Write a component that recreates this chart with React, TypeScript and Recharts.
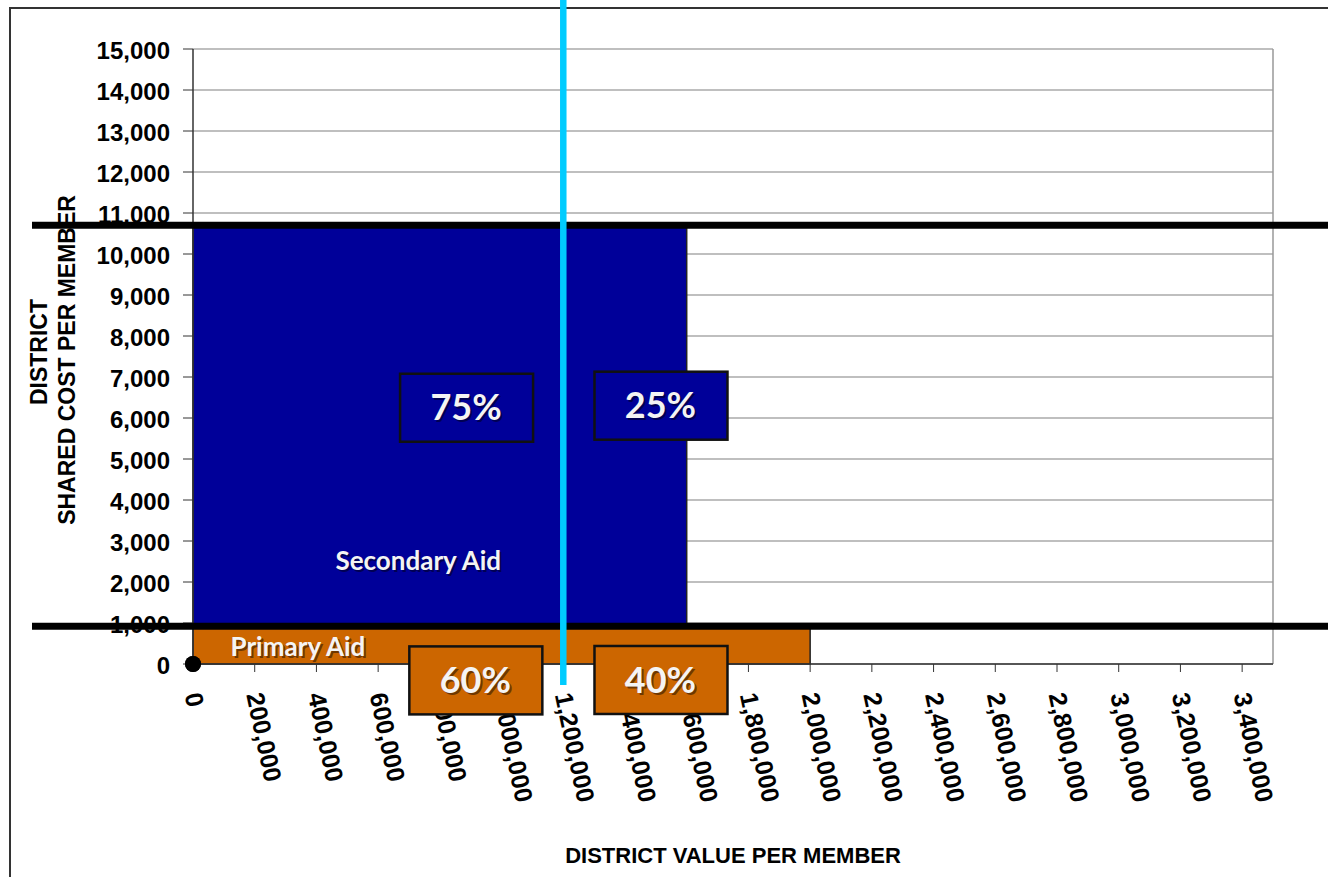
import React from 'react'
import {
  ComposedChart,
  XAxis,
  YAxis,
  CartesianGrid,
  ReferenceArea,
  ReferenceLine,
  ReferenceDot,
  Scatter,
} from 'recharts'

const valueTicks = [
  0, 200000, 400000, 600000, 800000, 1000000, 1200000, 1400000, 1600000,
  1800000, 2000000, 2200000, 2400000, 2600000, 2800000, 3000000, 3200000, 3400000,
]
const costTicks = [
  0, 1000, 2000, 3000, 4000, 5000, 6000, 7000, 8000, 9000, 10000, 11000, 12000, 13000, 14000, 15000,
]

// aid bands: primary sits under the lower threshold, secondary between the two
const bandNames = ['Primary Aid', 'Secondary Aid']
const bandValueLimits = [2000000, 1600000]
const bandCostFloors = [0, 920]
const bandCostCeilings = [920, 10700]
const bandLabelValues = [340000, 730000]
const bandLabelCosts = [410, 2510]

const thresholdCosts = [920, 10700]
const memberValue = 1200000

// state / district share boxes on each side of the member value
const shareLabels = ['75%', '25%', '60%', '40%']
const shareBands = [1, 1, 0, 0]
const shareValues = [885000, 1515000, 915000, 1515000]
const shareCosts = [6250, 6300, -400, -390]

const origin = [{ value: 0, cost: 0 }]

const bandColors = ['#CC6600', '#000099']

const W = 1328
const H = 877
const PLOT_LEFT = 193
const PLOT_TOP = 49
const PLOT_RIGHT = 1273
const PLOT_BOTTOM = 664

const axisFont = '"Liberation Sans", Arial, sans-serif'
const boxFont = 'Lato, "Open Sans", sans-serif'

const fmt = (v: number) => v.toLocaleString('en-US')

const ValueTick = (props: any) => {
  const { x, y, payload } = props
  return (
    <g transform={`translate(${x},${y + 19}) rotate(78)`}>
      <text
        x={0}
        y={0}
        dy="0.35em"
        textAnchor="start"
        fontFamily={axisFont}
        fontWeight="bold"
        fontSize={25}
        fill="#000"
      >
        {fmt(payload.value)}
      </text>
    </g>
  )
}

const CostTick = (props: any) => {
  const { x, y, payload } = props
  return (
    <text
      x={x - 11}
      y={y}
      dy={10}
      textAnchor="end"
      fontFamily={axisFont}
      fontWeight="bold"
      fontSize={24}
      fill="#000"
    >
      {fmt(payload.value)}
    </text>
  )
}

const ShadowText = ({ x, y, size, children }: any) => (
  <g fontFamily={boxFont} fontWeight="bold" fontSize={size} textAnchor="middle">
    <text x={x + 2} y={y + 2} dy="0.35em" fill="#000" opacity={0.45}>
      {children}
    </text>
    <text x={x} y={y} dy="0.35em" fill="#F4F4F4">
      {children}
    </text>
  </g>
)

const CostTitle = () => (
  <g fontFamily={axisFont} fontWeight="bold" fontSize={23} fill="#000" textAnchor="middle">
    <text transform="translate(47,352) rotate(-90)">DISTRICT</text>
    <text transform="translate(75,360) rotate(-90)">SHARED COST PER MEMBER</text>
  </g>
)

const layerStyle = { position: 'absolute' as const, left: 0, top: 0 }

export default function App() {
  return (
    <div
      style={{
        position: 'absolute',
        left: 0,
        top: 0,
        width: W,
        height: H,
        overflow: 'hidden',
        background: '#fff',
      }}
    >
      <div
        style={{
          position: 'absolute',
          left: 9,
          top: 7,
          width: W + 50,
          height: H + 50,
          border: '2px solid #333',
        }}
      />
      {/* base layer: axes, grid, aid bands */}
      <ComposedChart
        width={W}
        height={H}
        margin={{ top: PLOT_TOP, right: W - PLOT_RIGHT, left: 0, bottom: 0 }}
        style={layerStyle}
      >
        <CartesianGrid vertical={false} stroke="#808080" strokeWidth={1.2} />
        <XAxis
          type="number"
          dataKey="value"
          domain={[0, 3500000]}
          ticks={valueTicks}
          interval={0}
          height={H - PLOT_BOTTOM}
          tickSize={8}
          tick={<ValueTick />}
          axisLine={{ stroke: '#333', strokeWidth: 1.5 }}
          tickLine={{ stroke: '#333' }}
          label={{
            value: 'DISTRICT VALUE PER MEMBER',
            position: 'insideBottom',
            offset: 14,
            style: { fontFamily: axisFont, fontWeight: 'bold', fontSize: 22, fill: '#000' },
          }}
        />
        <YAxis
          type="number"
          dataKey="cost"
          domain={[0, 15000]}
          ticks={costTicks}
          interval={0}
          width={PLOT_LEFT}
          tickSize={10}
          tick={<CostTick />}
          axisLine={{ stroke: '#333', strokeWidth: 1.5 }}
          tickLine={{ stroke: '#333' }}
          label={{ content: () => <CostTitle /> }}
        />
        <ReferenceLine x={3500000} stroke="#999" strokeWidth={1.5} />

        {bandNames.map((name, i) => (
          <ReferenceArea
            key={name}
            x1={0}
            x2={bandValueLimits[i]}
            y1={bandCostFloors[i]}
            y2={bandCostCeilings[i]}
            fill={bandColors[i]}
            fillOpacity={1}
            stroke="#222"
            strokeWidth={1.5}
          />
        ))}
        {bandNames.map((name, i) => (
          <ReferenceDot
            key={`lbl-${name}`}
            x={bandLabelValues[i]}
            y={bandLabelCosts[i]}
            ifOverflow="visible"
            shape={(p: any) => (
              <ShadowText x={p.cx} y={p.cy} size={26}>
                {name}
              </ShadowText>
            )}
          />
        ))}
        <Scatter
          data={origin}
          dataKey="cost"
          isAnimationActive={false}
          shape={(p: any) => <circle cx={p.cx} cy={p.cy} r={8} fill="#000" />}
        />
      </ComposedChart>

      {/* overlay layer: thresholds, member value line and share boxes sit above the axis text */}
      <ComposedChart
        width={W}
        height={H}
        data={origin}
        margin={{ top: PLOT_TOP, right: W - PLOT_RIGHT, left: 0, bottom: 0 }}
        style={layerStyle}
      >
        <XAxis
          type="number"
          dataKey="value"
          domain={[0, 3500000]}
          height={H - PLOT_BOTTOM}
          tick={false}
          axisLine={false}
          tickLine={false}
        />
        <YAxis
          type="number"
          dataKey="cost"
          domain={[0, 15000]}
          width={PLOT_LEFT}
          tick={false}
          axisLine={false}
          tickLine={false}
        />
        {thresholdCosts.map((c) => (
          <ReferenceLine
            key={`t-${c}`}
            y={c}
            shape={(p: any) => (
              <line x1={32} x2={W} y1={p.y1} y2={p.y1} stroke="#000" strokeWidth={7} />
            )}
          />
        ))}
        <ReferenceLine
          x={memberValue}
          shape={(p: any) => (
            <line x1={p.x1} x2={p.x1} y1={0} y2={PLOT_BOTTOM + 21} stroke="#00CCFF" strokeWidth={6.5} />
          )}
        />
        {shareLabels.map((label, i) => (
          <ReferenceDot
            key={`share-${label}`}
            x={shareValues[i]}
            y={shareCosts[i]}
            ifOverflow="visible"
            shape={(p: any) => (
              <g>
                <rect
                  x={p.cx - 66}
                  y={p.cy - 34}
                  width={133}
                  height={68}
                  fill={bandColors[shareBands[i]]}
                  stroke="#111"
                  strokeWidth={2.5}
                />
                <ShadowText x={p.cx} y={p.cy} size={36}>
                  {label}
                </ShadowText>
              </g>
            )}
          />
        ))}
        <Scatter
          dataKey="cost"
          isAnimationActive={false}
          shape={(p: any) => <circle cx={p.cx} cy={p.cy} r={8} fill="#000" />}
        />
      </ComposedChart>
    </div>
  )
}
